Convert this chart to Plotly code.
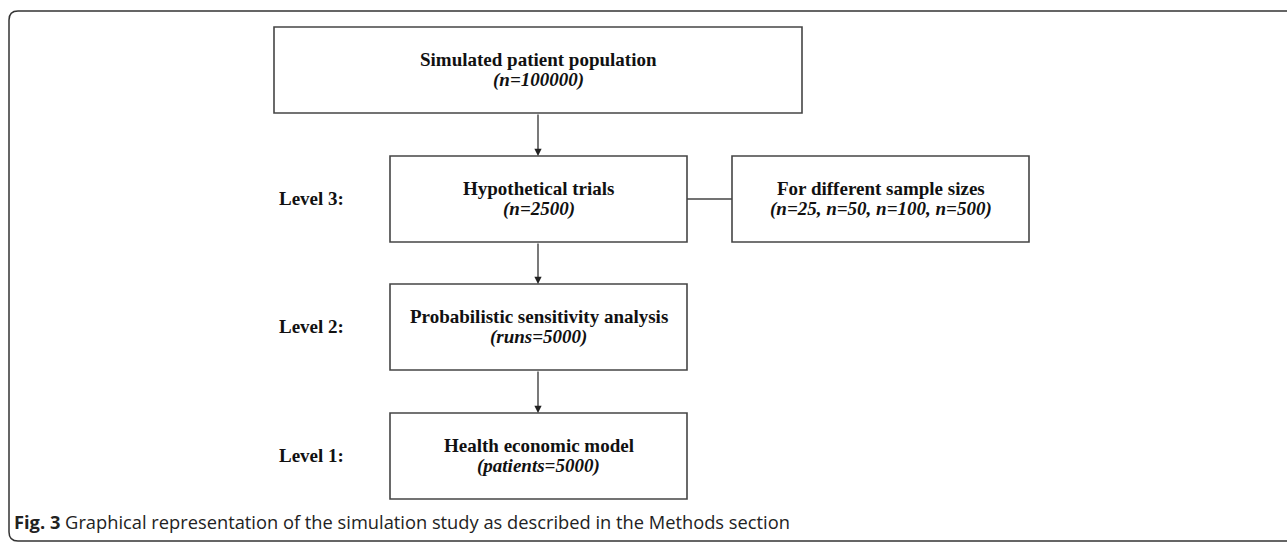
import plotly.graph_objects as go

# ---- content ----
box_titles = ["Simulated patient population", "Hypothetical trials",
              "Probabilistic sensitivity analysis", "Health economic model"]
box_subtitles = ["(n=100000)", "(n=2500)", "(runs=5000)", "(patients=5000)"]
level_labels = ["", "Level 3:", "Level 2:", "Level 1:"]
side_title = "For different sample sizes"
side_subtitle = "(n=25, n=50, n=100, n=500)"
caption_bold = "Fig. 3"
caption_text = " Graphical representation of the simulation study as described in the Methods section"

# ---- geometry (pixels, y down) ----
W, H = 1287, 544
main_x0, main_x1 = 390, 687
top_x0, top_x1 = 274, 802
box_tops = [27, 156, 284, 413]
box_h = 86
side_x0, side_x1 = 732, 1029
label_right = 346

box_line = dict(color="#454545", width=1.6)
serif = "Liberation Serif"
txt_color = "#111111"
fsize = 19

fig = go.Figure()
fig.add_trace(go.Scatter(x=[0, W], y=[0, H], mode="markers",
                         marker=dict(opacity=0), hoverinfo="skip", showlegend=False))

shapes = []
annotations = []


def add_box_text(cx, cy, title, sub):
    annotations.append(dict(x=cx, y=cy - 11, xref="x", yref="y", showarrow=False,
                            text=f"<b>{title}</b>",
                            font=dict(family=serif, size=fsize, color=txt_color),
                            xanchor="center", yanchor="middle"))
    annotations.append(dict(x=cx, y=cy + 10, xref="x", yref="y", showarrow=False,
                            text=f"<b><i>{sub}</i></b>",
                            font=dict(family=serif, size=fsize, color=txt_color),
                            xanchor="center", yanchor="middle"))


for i, (t, s, lab) in enumerate(zip(box_titles, box_subtitles, level_labels)):
    x0, x1 = (top_x0, top_x1) if i == 0 else (main_x0, main_x1)
    y0 = box_tops[i]
    y1 = y0 + box_h
    shapes.append(dict(type="rect", xref="x", yref="y", x0=x0, x1=x1, y0=y0, y1=y1,
                       line=box_line, fillcolor="white", layer="below"))
    cx = (x0 + x1) / 2
    cy = (y0 + y1) / 2
    add_box_text(cx, cy, t, s)
    if lab:
        annotations.append(dict(x=label_right, y=cy - 1, xref="x", yref="y", showarrow=False,
                                text=f"<b>{lab}</b>",
                                font=dict(family=serif, size=fsize, color=txt_color),
                                xanchor="right", yanchor="middle"))
    if i > 0:
        prev_bottom = box_tops[i - 1] + box_h
        ax_x = 538
        annotations.append(dict(x=ax_x, y=y0, ax=ax_x, ay=prev_bottom,
                                xref="x", yref="y", axref="x", ayref="y",
                                showarrow=True, arrowhead=2, arrowsize=1.2,
                                arrowwidth=1.2, arrowcolor="#222222", text=""))

# side box
sy0 = box_tops[1]
sy1 = sy0 + box_h
shapes.append(dict(type="rect", xref="x", yref="y", x0=side_x0, x1=side_x1,
                   y0=sy0, y1=sy1, line=box_line, fillcolor="white", layer="below"))
add_box_text((side_x0 + side_x1) / 2, (sy0 + sy1) / 2, side_title, side_subtitle)
# connector
shapes.append(dict(type="line", xref="x", yref="y", x0=main_x1, x1=side_x0,
                   y0=(sy0 + sy1) / 2, y1=(sy0 + sy1) / 2, line=box_line))

# outer rounded frame
shapes.append(dict(type="path", xref="x", yref="y",
                   path=f"M {W},11 L 18,11 Q 9,11 9,20 L 9,532 Q 9,541 18,541 L {W},541",
                   line=dict(color="#333333", width=1.5)))

# caption
annotations.append(dict(x=12, y=521, xref="x", yref="y", showarrow=False,
                        text=f"<b>{caption_bold}</b>{caption_text}",
                        font=dict(family="Open Sans", size=18.3, color="#222222"),
                        xanchor="left", yanchor="middle"))

fig.update_layout(
    width=W, height=H,
    margin=dict(l=0, r=0, t=0, b=0),
    paper_bgcolor="white", plot_bgcolor="white",
    xaxis=dict(range=[0, W], visible=False, fixedrange=True),
    yaxis=dict(range=[H, 0], visible=False, fixedrange=True),
    shapes=shapes, annotations=annotations,
    showlegend=False,
)

fig.write_html("out.html", config={"displayModeBar": False},
               post_script="document.body.style.margin='0';document.body.style.overflow='hidden';")
